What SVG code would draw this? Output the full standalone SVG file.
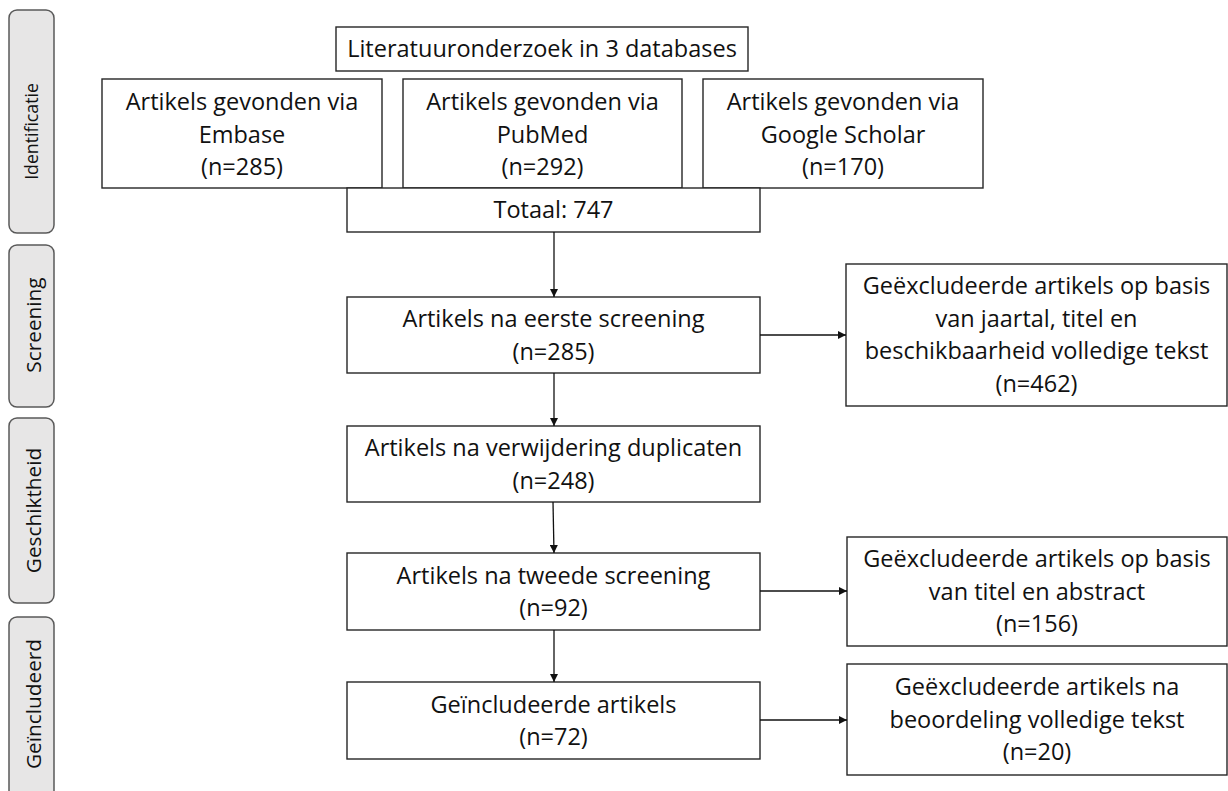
<svg xmlns="http://www.w3.org/2000/svg" width="1228" height="791" viewBox="0 0 1228 791">
<defs>
<style>
.box{fill:#ffffff;stroke:#262626;stroke-width:1.4}
.pill{fill:#e7e6e6;stroke:#595959;stroke-width:1.5}
.t{font-family:"Open Sans","Liberation Sans",sans-serif;font-size:23.5px;fill:#111111;text-anchor:middle}
.p{font-family:"Open Sans","Liberation Sans",sans-serif;font-size:20.8px;fill:#111111;text-anchor:middle}
.ps{font-size:17.7px}
.c{stroke:#111111;stroke-width:1.3;fill:none;marker-end:url(#ah)}
</style>
<marker id="ah" viewBox="0 0 10 10" refX="10" refY="5" markerWidth="9" markerHeight="8" markerUnits="userSpaceOnUse" orient="auto">
<path d="M0,0 L10,5 L0,10 z" fill="#111111"/>
</marker>
</defs>
<rect width="1228" height="791" fill="#ffffff"/>

<g id="phase-identificatie">
<rect class="pill" x="9" y="10" width="45" height="223" rx="8"/>
<text class="p ps" transform="translate(38,131.5) rotate(-90)">Identificatie</text>
</g>
<g id="phase-screening">
<rect class="pill" x="9" y="245" width="45" height="162" rx="8"/>
<text class="p" transform="translate(41,325) rotate(-90)">Screening</text>
</g>
<g id="phase-geschiktheid">
<rect class="pill" x="9" y="418" width="45" height="185" rx="8"/>
<text class="p" transform="translate(41,510.5) rotate(-90)">Geschiktheid</text>
</g>
<g id="phase-geincludeerd">
<rect class="pill" x="9" y="617" width="45" height="190" rx="8"/>
<text class="p" transform="translate(41,704) rotate(-90)">Geïncludeerd</text>
</g>

<g id="literatuur">
<rect class="box" x="336" y="27" width="412" height="44"/>
<text class="t" x="542" y="57">Literatuuronderzoek in 3 databases</text>
</g>
<g id="embase">
<rect class="box" x="102" y="79" width="280" height="109"/>
<text class="t" x="242" y="110">Artikels gevonden via</text>
<text class="t" x="242" y="142.5">Embase</text>
<text class="t" x="242" y="175">(n=285)</text>
</g>
<g id="pubmed">
<rect class="box" x="403" y="79" width="279" height="109"/>
<text class="t" x="542.5" y="110">Artikels gevonden via</text>
<text class="t" x="542.5" y="142.5">PubMed</text>
<text class="t" x="542.5" y="175">(n=292)</text>
</g>
<g id="scholar">
<rect class="box" x="703" y="79" width="280" height="109"/>
<text class="t" x="843" y="110">Artikels gevonden via</text>
<text class="t" x="843" y="142.5">Google Scholar</text>
<text class="t" x="843" y="175">(n=170)</text>
</g>
<g id="totaal">
<rect class="box" x="347" y="188" width="413" height="44"/>
<text class="t" x="553.5" y="218">Totaal: 747</text>
</g>
<g id="screening1">
<rect class="box" x="347" y="297" width="413" height="76"/>
<text class="t" x="553.5" y="327">Artikels na eerste screening</text>
<text class="t" x="553.5" y="359.5">(n=285)</text>
</g>
<g id="excl1">
<rect class="box" x="846" y="264" width="381" height="142"/>
<text class="t" x="1036.5" y="294">Geëxcludeerde artikels op basis</text>
<text class="t" x="1036.5" y="326.5">van jaartal, titel en</text>
<text class="t" x="1036.5" y="359">beschikbaarheid volledige tekst</text>
<text class="t" x="1036.5" y="391.5">(n=462)</text>
</g>
<g id="duplicaten">
<rect class="box" x="347" y="426" width="413" height="76"/>
<text class="t" x="553.5" y="456">Artikels na verwijdering duplicaten</text>
<text class="t" x="553.5" y="488.5">(n=248)</text>
</g>
<g id="screening2">
<rect class="box" x="347" y="553" width="413" height="77"/>
<text class="t" x="553.5" y="583.5">Artikels na tweede screening</text>
<text class="t" x="553.5" y="616">(n=92)</text>
</g>
<g id="excl2">
<rect class="box" x="847" y="537" width="380" height="109"/>
<text class="t" x="1037" y="567">Geëxcludeerde artikels op basis</text>
<text class="t" x="1037" y="599.5">van titel en abstract</text>
<text class="t" x="1037" y="632">(n=156)</text>
</g>
<g id="included">
<rect class="box" x="347" y="682" width="413" height="77"/>
<text class="t" x="553.5" y="712.5">Geïncludeerde artikels</text>
<text class="t" x="553.5" y="745">(n=72)</text>
</g>
<g id="excl3">
<rect class="box" x="847" y="664" width="380" height="111"/>
<text class="t" x="1037" y="695">Geëxcludeerde artikels na</text>
<text class="t" x="1037" y="727.5">beoordeling volledige tekst</text>
<text class="t" x="1037" y="760">(n=20)</text>
</g>

<g id="connectors">
<line class="c" x1="554" y1="232" x2="554" y2="297"/>
<line class="c" x1="554" y1="373" x2="554" y2="426"/>
<line class="c" x1="553" y1="502" x2="554" y2="553"/>
<line class="c" x1="554" y1="630" x2="554" y2="682"/>
<line class="c" x1="760" y1="335" x2="846" y2="335"/>
<line class="c" x1="760" y1="591" x2="847" y2="591"/>
<line class="c" x1="760" y1="720" x2="847" y2="720"/>
</g>
</svg>
